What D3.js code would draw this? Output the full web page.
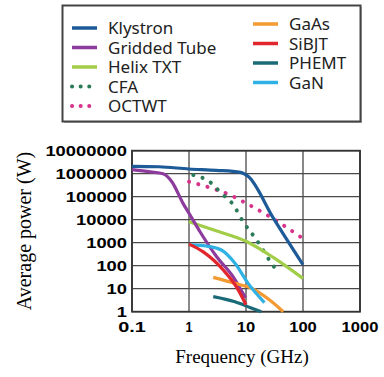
<!DOCTYPE html>
<html>
<head>
<meta charset="utf-8">
<script src="https://cdn.jsdelivr.net/npm/d3@7"></script>
<style>
  body { margin: 0; background: #fff; }
  svg { display: block; }
</style>
</head>
<body>
<div id="chart"></div>
<script>
// device data: [frequency GHz, average power W]
const klystron = [[0.1, 2.1e6], [0.3, 2e6], [1, 1.6e6], [3, 1.4e6], [8, 1.15e6], [11, 7.5e5], [30, 1.2e4], [100, 110]]
const griddedTube = [[0.1, 1.5e6], [0.21, 1.2e6], [0.35, 1e6], [0.5, 4.5e5], [0.79, 5e4], [1, 1.9e4], [1.56, 3000], [3.06, 245], [5.96, 33], [9.8, 4]]
const helixTxt = [[1, 8200], [3, 3300], [10, 1150], [30, 230], [100, 28]]
const cfa = [[1.19, 8.8e5], [2.5, 3.8e5], [3.5, 1.6e5], [6, 4.4e4], [8.9, 8200], [15.4, 1300], [28, 127], [37, 50]]
const octwt = [[1, 4.5e5], [2.7, 2.2e5], [5.2, 1.2e5], [10.3, 5e4], [32, 1e4], [100, 1500]]
const gaAs = [[2.66, 31], [6.4, 17], [12.5, 10.4], [26, 3.2], [45, 1]]
const siBjt = [[1, 870], [1.78, 400], [4, 65], [6.8, 12], [10, 2]]
const phemt = [[2.66, 4.5], [6.4, 2.7], [12, 1.5], [18.5, 1]]
const gaN = [[1.1, 800], [2, 720], [3.7, 480], [6.4, 127], [10.9, 17], [21, 2.5]]

const xTicks = [0.1, 1, 10, 100, 1000]
const yTicks = [1, 10, 100, 1000, 10000, 100000, 1000000, 10000000]

const series = [
  {name: 'Klystron', data: klystron, color: '#1d5a98', dotted: false},
  {name: 'Gridded Tube', data: griddedTube, color: '#8d3b9c', dotted: false},
  {name: 'Helix TXT', data: helixTxt, color: '#a2cd48', dotted: false},
  {name: 'CFA', data: cfa, color: '#2b7a58', dotted: true},
  {name: 'OCTWT', data: octwt, color: '#d8338b', dotted: true},
  {name: 'GaAs', data: gaAs, color: '#f39a33', dotted: false},
  {name: 'SiBJT', data: siBjt, color: '#e2262d', dotted: false},
  {name: 'PHEMT', data: phemt, color: '#1b6a78', dotted: false},
  {name: 'GaN', data: gaN, color: '#2fb1e4', dotted: false},
]
// draw order: tubes under solid-state
const drawOrder = ['OCTWT', 'CFA', 'Klystron', 'Helix TXT', 'Gridded Tube', 'GaAs', 'PHEMT', 'GaN', 'SiBJT']

const width = 384, height = 377
const svg = d3.select('#chart').append('svg')
    .attr('width', width).attr('height', height)

const x = d3.scaleLog().domain([0.1, 1000]).range([132, 360])
const y = d3.scaleLog().domain([1, 1e7]).range([311.7, 150.7])

// grid
const grid = svg.append('g')
grid.selectAll('line.v').data(xTicks).enter().append('line')
    .attr('x1', (d) => x(d)).attr('x2', (d) => x(d))
    .attr('y1', y(1e7)).attr('y2', y(1))
    .attr('stroke', '#4a4a4a').attr('stroke-width', 1.3)
grid.selectAll('line.h').data(yTicks).enter().append('line')
    .attr('x1', x(0.1)).attr('x2', x(1000))
    .attr('y1', (d) => y(d)).attr('y2', (d) => y(d))
    .attr('stroke', '#4a4a4a').attr('stroke-width', 1.3)
svg.append('rect')
    .attr('x', x(0.1)).attr('y', y(1e7))
    .attr('width', x(1000) - x(0.1)).attr('height', y(1) - y(1e7))
    .attr('fill', 'none').attr('stroke', '#333').attr('stroke-width', 1.8)

// curves
const line = d3.line()
    .x((d) => x(d[0])).y((d) => y(d[1]))
    .curve(d3.curveMonotoneX)

const plot = svg.append('g')
drawOrder.forEach((n) => {
  const s = series.find((e) => e.name === n)
  const p = plot.append('path')
      .datum(s.data)
      .attr('d', line)
      .attr('fill', 'none')
      .attr('stroke', s.color)
      .attr('stroke-width', s.dotted ? 4 : 3.2)
  if (s.dotted) {
    p.attr('stroke-dasharray', '0.1,9.5').attr('stroke-linecap', 'round')
  }
})

// tick labels (bold, stretched wide like the original)
const fmt = (d) => String(d)
svg.append('g').selectAll('text').data(yTicks).enter().append('text')
    .attr('x', 127).attr('y', (d) => y(d) + 5)
    .attr('text-anchor', 'end')
    .attr('font-family', 'Liberation Sans, Arial, sans-serif')
    .attr('font-weight', 'bold').attr('font-size', 14)
    .attr('textLength', (d) => fmt(d).length * 10.2)
    .attr('lengthAdjust', 'spacingAndGlyphs')
    .text(fmt)
svg.append('g').selectAll('text').data(xTicks).enter().append('text')
    .attr('x', (d) => x(d)).attr('y', 332)
    .attr('text-anchor', 'middle')
    .attr('font-family', 'Liberation Sans, Arial, sans-serif')
    .attr('font-weight', 'bold').attr('font-size', 14)
    .attr('textLength', (d) => fmt(d).length === 1 ? 7 : fmt(d).length * 9.2)
    .attr('lengthAdjust', 'spacingAndGlyphs')
    .text(fmt)

// axis titles
svg.append('text')
    .attr('transform', 'translate(31,231) rotate(-90)')
    .attr('text-anchor', 'middle')
    .attr('font-family', 'Liberation Serif, Times New Roman, serif')
    .attr('font-size', 20)
    .text('Average power (W)')
svg.append('text')
    .attr('x', 242).attr('y', 363)
    .attr('text-anchor', 'middle')
    .attr('font-family', 'Liberation Serif, Times New Roman, serif')
    .attr('font-size', 19)
    .text('Frequency (GHz)')

// legend
const legend = svg.append('g')
legend.append('rect')
    .attr('x', 64).attr('y', 7).attr('width', 298).attr('height', 116)
    .attr('fill', '#bbb')
legend.append('rect')
    .attr('x', 62.5).attr('y', 5.5).attr('width', 298).attr('height', 116)
    .attr('fill', '#fff').attr('stroke', '#444').attr('stroke-width', 2)

const leftCol = series.slice(0, 5)
const rightCol = series.slice(5)
const drawItems = (items, x0, y0) => {
  const g = legend.append('g')
  const item = g.selectAll('g').data(items).enter().append('g')
      .attr('transform', (d, i) => `translate(${x0},${y0 + i * 19.5})`)
  item.append('line')
      .attr('x1', 0).attr('x2', 25).attr('y1', 0).attr('y2', 0)
      .attr('stroke', (d) => d.color)
      .attr('stroke-width', (d) => d.dotted ? 4 : 3.5)
      .attr('stroke-dasharray', (d) => d.dotted ? '0.1,8.5' : null)
      .attr('stroke-linecap', (d) => d.dotted ? 'round' : 'butt')
  item.append('text')
      .attr('x', 36).attr('y', 6)
      .attr('font-family', 'Noto Sans, Open Sans, sans-serif')
      .attr('font-size', 17)
      .attr('fill', '#222')
      .text((d) => d.name)
}
drawItems(leftCol, 72, 28)
drawItems(rightCol, 253, 24)
</script>
</body>
</html>
